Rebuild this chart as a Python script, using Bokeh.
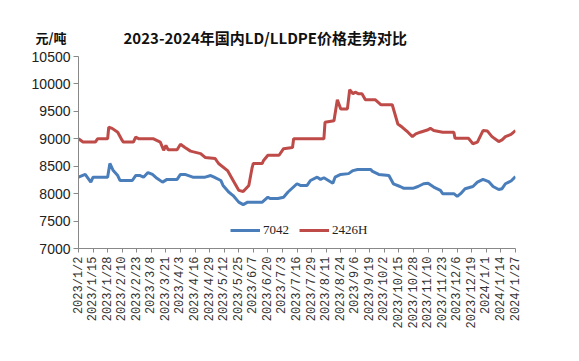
import pandas as pd
from bokeh.plotting import figure
from bokeh.layouts import column
from bokeh.models import FixedTicker, Label, Range1d
from bokeh.embed import file_html
from bokeh.resources import INLINE

title_text = "2023-2024年国内LD/LLDPE价格走势对比"
unit_text = "元/吨"
series_names = ["7042", "2426H"]

tick_labels = ["2023/1/2", "2023/1/15", "2023/1/28", "2023/2/10", "2023/2/23", "2023/3/8",
               "2023/3/21", "2023/4/3", "2023/4/16", "2023/4/29", "2023/5/12", "2023/5/25",
               "2023/6/7", "2023/6/20", "2023/7/3", "2023/7/16", "2023/7/29", "2023/8/11",
               "2023/8/24", "2023/9/6", "2023/9/19", "2023/10/2", "2023/10/15", "2023/10/28",
               "2023/11/10", "2023/11/23", "2023/12/6", "2023/12/19", "2024/1/1", "2024/1/14",
               "2024/1/27"]
y_ticks = [7000, 7500, 8000, 8500, 9000, 9500, 10000, 10500]

blue_dates = ["2023-01-02", "2023-01-08", "2023-01-13", "2023-01-15", "2023-01-28", "2023-01-30",
              "2023-02-02", "2023-02-06", "2023-02-08", "2023-02-19", "2023-02-22", "2023-02-26",
              "2023-03-01", "2023-03-05", "2023-03-09", "2023-03-13", "2023-03-18", "2023-03-22",
              "2023-03-31", "2023-04-03", "2023-04-07", "2023-04-14", "2023-04-25", "2023-04-30",
              "2023-05-03", "2023-05-09", "2023-05-11", "2023-05-16", "2023-05-20", "2023-05-25",
              "2023-05-29", "2023-06-02", "2023-06-15", "2023-06-20", "2023-06-22", "2023-06-29",
              "2023-07-04", "2023-07-08", "2023-07-16", "2023-07-19", "2023-07-25", "2023-07-28",
              "2023-08-03", "2023-08-06", "2023-08-09", "2023-08-13", "2023-08-17", "2023-08-19",
              "2023-08-24", "2023-08-31", "2023-09-04", "2023-09-08", "2023-09-20", "2023-09-21",
              "2023-09-27", "2023-10-06", "2023-10-10", "2023-10-16", "2023-10-19", "2023-10-28",
              "2023-11-01", "2023-11-06", "2023-11-10", "2023-11-15", "2023-11-21", "2023-11-23",
              "2023-12-03", "2023-12-06", "2023-12-09", "2023-12-13", "2023-12-20", "2023-12-24",
              "2023-12-29", "2024-01-03", "2024-01-07", "2024-01-12", "2024-01-15", "2024-01-18",
              "2024-01-23", "2024-01-27"]
blue_values = [8300, 8350, 8210, 8300, 8300, 8550,
               8420, 8330, 8240, 8240, 8330, 8330,
               8300, 8385, 8350, 8280, 8210, 8260,
               8260, 8350, 8350, 8300, 8300, 8330,
               8300, 8240, 8150, 8030, 7965, 7845,
               7800, 7845, 7845, 7935, 7910, 7910,
               7935, 8030, 8180, 8150, 8150, 8240,
               8300, 8260, 8290, 8240, 8190, 8300,
               8350, 8365, 8420, 8440, 8440, 8410,
               8350, 8330, 8180, 8130, 8100, 8100,
               8130, 8180, 8190, 8120, 8060, 8000,
               8000, 7950, 8000, 8090, 8130, 8210,
               8260, 8220, 8130, 8075, 8090, 8180,
               8230, 8310]

red_dates = ["2023-01-02", "2023-01-06", "2023-01-17", "2023-01-19", "2023-01-28", "2023-01-29",
             "2023-02-01", "2023-02-06", "2023-02-10", "2023-02-11", "2023-02-20", "2023-02-22",
             "2023-02-25", "2023-03-10", "2023-03-16", "2023-03-19", "2023-03-21", "2023-03-23",
             "2023-03-31", "2023-04-03", "2023-04-07", "2023-04-12", "2023-04-21", "2023-04-25",
             "2023-05-04", "2023-05-07", "2023-05-15", "2023-05-20", "2023-05-25", "2023-05-29",
             "2023-06-03", "2023-06-06", "2023-06-07", "2023-06-15", "2023-06-16", "2023-06-20",
             "2023-06-30", "2023-07-04", "2023-07-12", "2023-07-13", "2023-08-09", "2023-08-10",
             "2023-08-18", "2023-08-21", "2023-08-24", "2023-08-30", "2023-09-01", "2023-09-04",
             "2023-09-06", "2023-09-09", "2023-09-12", "2023-09-15", "2023-09-24", "2023-09-29",
             "2023-10-09", "2023-10-14", "2023-10-18", "2023-10-23", "2023-10-27", "2023-10-30",
             "2023-11-03", "2023-11-10", "2023-11-12", "2023-11-15", "2023-11-23", "2023-12-03",
             "2023-12-04", "2023-12-16", "2023-12-20", "2023-12-24", "2023-12-29", "2024-01-02",
             "2024-01-06", "2024-01-12", "2024-01-15", "2024-01-18", "2024-01-23", "2024-01-27"]
red_values = [9000, 8940, 8940, 9000, 9000, 9210,
              9190, 9120, 8970, 8940, 8940, 9030,
              9000, 9000, 8940, 8790, 8880, 8800,
              8800, 8900, 8840, 8775, 8730, 8660,
              8640, 8550, 8420, 8240, 8060, 8040,
              8150, 8480, 8550, 8550, 8600, 8700,
              8700, 8820, 8840, 9000, 9000, 9300,
              9330, 9710, 9545, 9545, 9893, 9820,
              9850, 9820, 9820, 9710, 9710, 9620,
              9620, 9270, 9210, 9120, 9040, 9090,
              9120, 9165, 9190, 9150, 9120, 9120,
              9010, 9010, 8910, 8940, 9150, 9140,
              9040, 8950, 8980, 9040, 9080, 9150]

tick_dates = pd.to_datetime(tick_labels, format="%Y/%m/%d")
tick_ms = [float(t.value // 10**6) for t in tick_dates]

# header strip: title as a label in its frame, unit as its (horizontal) y-axis label
head = figure(width=571, height=48, output_backend="svg", toolbar_location=None,
              x_axis_type=None, min_border_left=78, min_border_right=56,
              min_border_top=26, min_border_bottom=0, outline_line_color=None,
              x_range=Range1d(0, 437), y_range=Range1d(0, 22))
head.grid.visible = False
hy = head.yaxis[0]
hy.ticker = FixedTicker(ticks=[])
hy.axis_line_color = None
hy.major_tick_line_color = None
hy.minor_tick_line_color = None
hy.major_label_text_font_size = "0px"
hy.axis_label = unit_text
hy.axis_label_orientation = "horizontal"
hy.axis_label_standoff = 12
hy.axis_label_text_font = "Noto Sans CJK SC"
hy.axis_label_text_font_size = "13px"
hy.axis_label_text_font_style = "bold"
hy.axis_label_text_color = "#111111"
head.add_layout(Label(x=45, y=11, text=title_text,
                      text_font="Noto Sans CJK SC", text_font_size="15px", text_font_style="bold",
                      text_color="#111111", text_baseline="middle"))

p = figure(width=571, height=305, x_axis_type="datetime", output_backend="svg",
           toolbar_location=None, min_border_left=78, min_border_right=56,
           min_border_top=8, min_border_bottom=105, outline_line_color=None)
p.x_range = Range1d(tick_dates[0], tick_dates[-1])
p.y_range = Range1d(y_ticks[0], y_ticks[-1])
p.grid.visible = False

p.line(pd.to_datetime(blue_dates), blue_values, line_color="#4a7ebb", line_width=3,
       legend_label=series_names[0])
p.line(pd.to_datetime(red_dates), red_values, line_color="#be4b48", line_width=3,
       legend_label=series_names[1])

xa = p.xaxis[0]
xa.ticker = FixedTicker(ticks=tick_ms)
xa.major_label_overrides = {ms: lab for ms, lab in zip(tick_ms, tick_labels)}
xa.major_label_orientation = 3.14159265 / 2
xa.major_label_text_font = "Liberation Mono"
xa.major_label_text_font_size = "12px"
xa.major_label_text_color = "#333333"
xa.major_label_standoff = 4
xa.minor_tick_line_color = None
xa.major_tick_in = 0
xa.major_tick_out = 4
xa.axis_line_color = "#888888"
xa.major_tick_line_color = "#888888"

ya = p.yaxis[0]
ya.ticker = FixedTicker(ticks=y_ticks)
ya.major_label_text_font = "Liberation Sans"
ya.major_label_text_font_size = "14px"
ya.major_label_text_color = "#222222"
ya.minor_tick_line_color = None
ya.major_tick_in = 0
ya.major_tick_out = 5
ya.major_label_standoff = 3
ya.axis_line_color = "#888888"
ya.major_tick_line_color = "#888888"

lg = p.legend[0]
lg.orientation = "horizontal"
lg.location = (152, 10)
lg.background_fill_alpha = 0
lg.border_line_alpha = 0
lg.padding = 0
lg.margin = 0
lg.spacing = 10
lg.glyph_width = 30
lg.glyph_height = 16
lg.label_standoff = 3
lg.label_text_font = "Liberation Serif"
lg.label_text_font_size = "13px"
lg.label_text_color = "#222222"

layout = column(head, p, spacing=0)
open("out.html", "w").write(file_html(layout, INLINE))
